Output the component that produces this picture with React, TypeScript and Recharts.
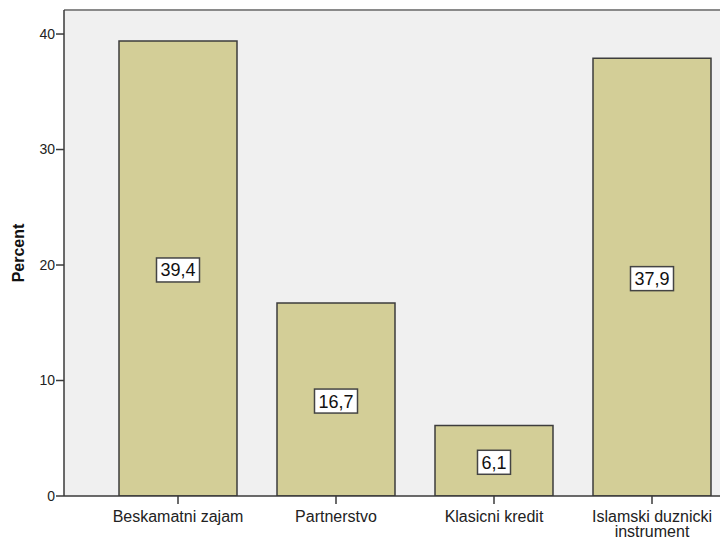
import { BarChart, Bar, XAxis, YAxis, CartesianGrid, LabelList, ReferenceLine } from "recharts";

const categories = [
  "Beskamatni zajam",
  "Partnerstvo",
  "Klasicni kredit",
  "Islamski duznicki instrument",
];
const percents = [39.4, 16.7, 6.1, 37.9];
const yTicks = [0, 10, 20, 30, 40];
const yMax = 42.08;

const data = categories.map((name, i) => ({ name, percent: percents[i] }));

const FONT = "'Liberation Sans', Arial, sans-serif";
const AXIS = "#3a3a3a";

// split long category names over two lines
function wrapLabel(text: string, maxChars = 18): string[] {
  const lines: string[] = [];
  let cur = "";
  for (const word of text.split(" ")) {
    const next = cur ? cur + " " + word : word;
    if (next.length > maxChars && cur) {
      lines.push(cur);
      cur = word;
    } else {
      cur = next;
    }
  }
  if (cur) lines.push(cur);
  return lines;
}

function CategoryTick({ x, y, payload }: any) {
  const lines = wrapLabel(payload.value);
  return (
    <g>
      {lines.map((line, i) => (
        <text
          key={i}
          x={x}
          y={y + 16 + i * 15}
          textAnchor="middle"
          fontFamily={FONT}
          fontSize={16}
          fill="#222"
        >
          {line}
        </text>
      ))}
    </g>
  );
}

// white value box in the middle of each bar
function ValueBox({ x, y, width, height, value }: any) {
  const text = Number(value).toFixed(1).replace(".", ",");
  const w = text.length * 10 + 3;
  const h = 24;
  const cx = x + width / 2;
  const cy = y + height / 2 + 1.5;
  return (
    <g>
      <rect x={cx - w / 2} y={cy - h / 2} width={w} height={h} fill="#fff" stroke="#444" strokeWidth={1.5} />
      <text
        x={cx}
        y={cy + 6.5}
        textAnchor="middle"
        fontFamily={FONT}
        fontSize={18}
        fill="#111"
      >
        {text}
      </text>
    </g>
  );
}

export default function App() {
  return (
    <div
      style={{
        position: "fixed",
        top: 0,
        left: 0,
        width: 720,
        height: 541,
        overflow: "hidden",
        background: "#fff",
      }}
    >
      <div
        style={{
          position: "absolute",
          left: 19,
          top: 253,
          transform: "translate(-50%, -50%) rotate(-90deg)",
          fontFamily: FONT,
          fontWeight: "bold",
          fontSize: 16,
          color: "#111",
          whiteSpace: "nowrap",
        }}
      >
        Percent
      </div>
      <BarChart
        width={770}
        height={541}
        data={data}
        margin={{ top: 10, right: 4, bottom: 0, left: 0 }}
      >
        <CartesianGrid horizontal={false} vertical={false} fill="#f0f0f0" />
        <ReferenceLine y={yMax} stroke="#8a8a8a" strokeWidth={2} />
        <XAxis
          dataKey="name"
          height={45}
          padding={{ left: 35, right: 35 }}
          interval={0}
          tickSize={8}
          tick={<CategoryTick />}
          axisLine={{ stroke: AXIS, strokeWidth: 1.5 }}
          tickLine={{ stroke: AXIS, strokeWidth: 1.5 }}
        />
        <YAxis
          width={64}
          domain={[0, yMax]}
          ticks={yTicks}
          allowDataOverflow
          tickSize={8}
          tickMargin={1}
          tick={{ fontFamily: FONT, fontSize: 14, fill: "#222" }}
          axisLine={{ stroke: AXIS, strokeWidth: 1.5 }}
          tickLine={{ stroke: AXIS, strokeWidth: 1.5 }}
        />
        <Bar
          dataKey="percent"
          barSize={118}
          fill="#d3ce97"
          stroke="#3d3d3d"
          strokeWidth={1.5}
          isAnimationActive={false}
        >
          <LabelList dataKey="percent" content={<ValueBox />} />
        </Bar>
      </BarChart>
    </div>
  );
}
